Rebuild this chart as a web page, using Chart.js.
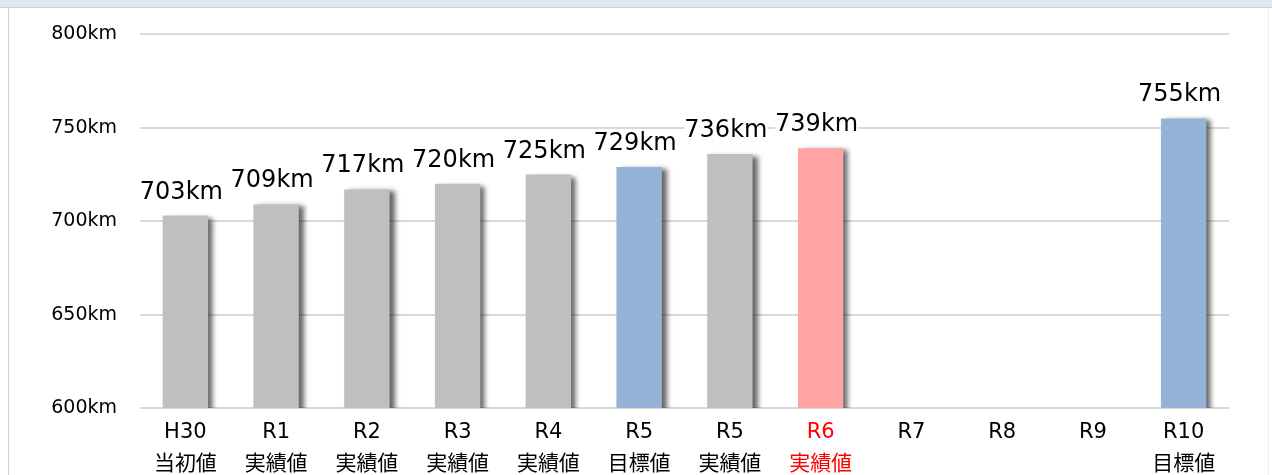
<!DOCTYPE html>
<html>
<head>
<meta charset="utf-8">
<script src="https://cdn.jsdelivr.net/npm/chart.js@4/dist/chart.umd.min.js"></script>
<style>
  html, body { margin: 0; padding: 0; background: #fff; }
  #wrap { position: relative; width: 1272px; height: 475px; overflow: hidden; }
  #topbar { position: absolute; left: 0; top: 0; width: 1272px; height: 7px; background: #dde8f4; border-bottom: 1px solid #cdd3da; }
  #lborder { position: absolute; left: 8px; top: 8px; width: 1px; height: 467px; background: #d4d4d4; }
  #rborder { position: absolute; left: 1268px; top: 8px; width: 1px; height: 467px; background: #ececec; }
  canvas { position: absolute; left: 0; top: 0; }
</style>
</head>
<body>
<div id="wrap">
  <div id="topbar"></div>
  <div id="lborder"></div>
  <div id="rborder"></div>
  <canvas id="myChart" width="1272" height="475"></canvas>
</div>
<script>
// data
const periods = ['H30', 'R1', 'R2', 'R3', 'R4', 'R5', 'R5', 'R6', 'R7', 'R8', 'R9', 'R10'];
const kinds = ['当初値', '実績値', '実績値', '実績値', '実績値', '目標値', '実績値', '実績値', '', '', '', '目標値'];
const lengths = [703, 709, 717, 720, 725, 729, 736, 739, null, null, null, 755];
const yTicks = [600, 650, 700, 750, 800];

const latest = 7; // R6 実績値, shown in red

let labels = periods.map((p, i) => kinds[i] ? [p, kinds[i]] : p);
let colors = kinds.map((k, i) => {
    if (i == latest) return '#ffa3a3';
    if (k == '目標値') return '#95b3d7';
    return '#bfbfbf';
});

const shadowPlugin = {
    id: 'barShadow',
    beforeDatasetsDraw(chart) {
        const ctx = chart.ctx;
        ctx.save();
        ctx.shadowColor = 'rgba(0,0,0,0.6)';
        ctx.shadowBlur = 5;
        ctx.shadowOffsetX = 5;
        ctx.shadowOffsetY = 2;
    },
    afterDatasetsDraw(chart) {
        chart.ctx.restore();
    }
};

const valueLabels = {
    id: 'valueLabels',
    afterDatasetsDraw(chart) {
        const ctx = chart.ctx;
        const meta = chart.getDatasetMeta(0);
        ctx.save();
        ctx.font = '24px "DejaVu Sans"';
        ctx.textAlign = 'center';
        ctx.textBaseline = 'alphabetic';
        meta.data.forEach((bar, i) => {
            let v = lengths[i];
            if (v == null) return;
            let txt = v + 'km';
            let x = bar.x - 4;
            let y = bar.y - 17;
            let w = ctx.measureText(txt).width;
            ctx.fillStyle = '#fff';
            ctx.fillRect(x - w / 2, y - 19, w, 21);
            ctx.fillStyle = '#000';
            ctx.fillText(txt, x, y);
        });
        ctx.restore();
    }
};

var ctx = document.getElementById('myChart').getContext('2d');
var chart = new Chart(ctx, {
    type: 'bar',
    data: {
        labels: labels,
        datasets: [{
            data: lengths,
            backgroundColor: colors,
            borderWidth: 0,
            barPercentage: 0.5,
            categoryPercentage: 1.0
        }]
    },
    plugins: [shadowPlugin, valueLabels],
    options: {
        responsive: false,
        animation: false,
        layout: { padding: { left: 0, right: 43, top: 32, bottom: 0 } },
        plugins: { legend: { display: false }, tooltip: { enabled: false } },
        scales: {
            x: {
                grid: { display: false, drawTicks: false },
                border: { display: false },
                ticks: {
                    padding: 9,
                    maxRotation: 0,
                    autoSkip: false,
                    font: { family: '"DejaVu Sans", "Noto Sans CJK JP"', size: 21, lineHeight: '32px' },
                    color: (c) => c.index == latest ? '#ff0000' : '#000'
                },
                afterFit(scale) { scale.height = 67; }
            },
            y: {
                min: yTicks[0],
                max: yTicks[yTicks.length - 1],
                afterBuildTicks(scale) { scale.ticks = yTicks.map(v => ({ value: v })); },
                grid: { color: '#d9d9d9', lineWidth: 2, drawTicks: false },
                border: { display: false },
                ticks: {
                    padding: 23,
                    font: { family: '"DejaVu Sans"', size: 19 },
                    color: '#000',
                    callback: (v) => v + 'km'
                },
                afterFit(scale) { scale.width = 140; }
            }
        }
    }
});
</script>
</body>
</html>
